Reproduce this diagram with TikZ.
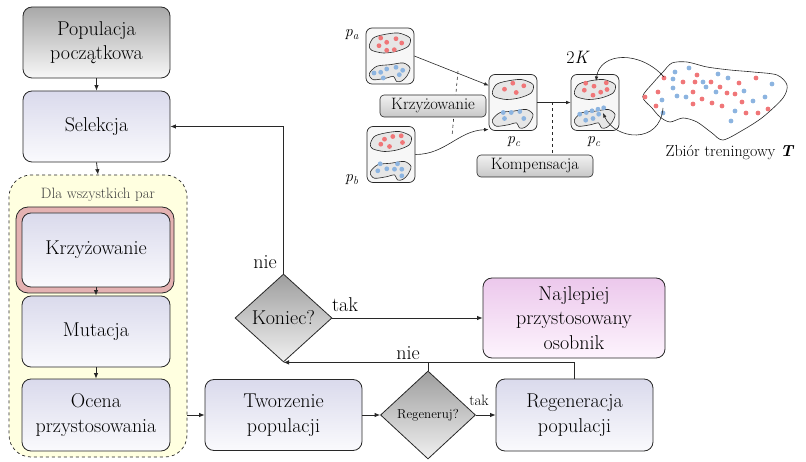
\documentclass[tikz,border=0pt]{standalone}
\usepackage{fontspec}
\usetikzlibrary{shapes.geometric,arrows.meta,calc}

\definecolor{lav}{RGB}{218,218,236}
\definecolor{lavlight}{RGB}{250,250,253}
\definecolor{orchid}{RGB}{236,200,236}
\definecolor{orchidlight}{RGB}{253,244,253}
\definecolor{padyellow}{RGB}{255,255,224}
\definecolor{framepink}{RGB}{228,178,178}
\definecolor{reddot}{RGB}{240,118,120}
\definecolor{bluedot}{RGB}{140,180,224}
\definecolor{blobgrey}{RGB}{230,230,230}
\definecolor{ink}{RGB}{40,40,40}

\newcommand{\spots}[2]{\foreach \a/\b in {#2} \fill[#1] (\a,\b) circle (2.4pt);}
\newcommand{\ivar}[2]{\textit{#1}\textsubscript{\textit{#2}}}

\tikzset{
  flow/.style={draw=ink, line width=0.8pt, rounded corners=9pt, align=center,
    font=\fontsize{20}{24.5}\selectfont, inner sep=2pt},
  greyfill/.style={top color=black!34, bottom color=black!3},
  bluefill/.style={top color=lav, bottom color=lavlight},
  pinkfill/.style={top color=orchid, bottom color=orchidlight},
  decision/.style={diamond, draw=ink, line width=0.8pt, top color=black!38,
    bottom color=black!6, inner sep=0pt, align=center},
  link/.style={line width=0.8pt, draw=ink, -{Latex[length=5.5pt,width=4.5pt]}},
  thinlink/.style={line width=0.6pt, draw=ink, -{Latex[length=4.5pt,width=3.6pt]}},
  lbl/.style={font=\fontsize{20}{24}\selectfont},
  panel/.style={draw=ink, line width=0.7pt, rounded corners=6pt, fill=black!3,
    minimum width=48, minimum height=56, inner sep=0pt},
  blobline/.style={draw=ink, line width=0.6pt, fill=blobgrey},
  tag/.style={draw=ink, line width=0.6pt, rounded corners=4pt, top color=black!5,
    bottom color=black!22, font=\fontsize{16.5}{19}\selectfont, inner sep=1pt},
  pics/blobs/.style={code={
    \draw[blobline] plot[smooth cycle] coordinates {(-20.7,-10.3) (-16.7,-18) (-6.7,-21.3)
      (8.3,-23) (20,-18) (18.3,-9.7) (6.7,-4.7) (-6.7,-3) (-18.3,-5.7)};
    \draw[blobline] plot[smooth cycle] coordinates {(-20.7,17.7) (-13.3,10.3) (0,8.7)
      (13.3,7) (20,12) (16.7,20.3) (11.7,25) (6.7,25.5) (3.3,20.3) (-3.3,22) (-16.7,23.7)};
  }},
}

\begin{document}
\begin{tikzpicture}[x=1pt,y=-1pt]
\useasboundingbox (0,0) rectangle (806,462);

% ---------------- main flow chart ----------------
\node[flow, greyfill, minimum width=147, minimum height=71] (pop) at (96.5,42.5)
  {Populacja\\początkowa};
\node[flow, bluefill, minimum width=147, minimum height=71] (sel) at (96.5,126.5) {Selekcja};

% loop over all pairs
\node[draw=ink, dashed, line width=0.7pt, rounded corners=22pt, fill=padyellow,
  minimum width=178, minimum height=282] (grp) at (98,316) {};
\node[font=\fontsize{15}{18}\selectfont, text=black!75] (grpname) at (98,195) {Dla wszystkich par};
\node[draw=ink, line width=0.8pt, rounded corners=12pt, fill=framepink,
  minimum width=158, minimum height=86] (krzframe) at (95,250) {};
\node[flow, bluefill, minimum width=148, minimum height=74] (krz) at (96,250) {Krzyżowanie};
\node[flow, bluefill, minimum width=148, minimum height=71] (mut) at (96,331.5) {Mutacja};
\node[flow, bluefill, minimum width=148, minimum height=72] (oce) at (96,415)
  {Ocena\\przystosowania};

\node[flow, bluefill, minimum width=157, minimum height=71] (twor) at (283.5,415)
  {Tworzenie\\populacji};
\node[decision, minimum width=95, minimum height=88,
  font=\fontsize{13}{15}\selectfont] (reg) at (428,415) {Regeneruj?};
\node[flow, bluefill, minimum width=157, minimum height=72] (regen) at (574.5,415)
  {Regeneracja\\populacji};
\node[decision, minimum width=97, minimum height=88,
  font=\fontsize{20}{24}\selectfont] (kon) at (283.5,318) {Koniec?};
\node[flow, pinkfill, minimum width=182, minimum height=80] (best) at (574,318)
  {Najlepiej\\przystosowany\\osobnik};

\draw[link] (pop.south) -- (sel.north);
\draw[link] (sel.south) -- (grp.north);
\draw[link] (krz.south) -- (mut.north);
\draw[link] (mut.south) -- (oce.north);
\draw[link] (grp.east |- twor.west) -- (twor.west);
\draw[link] (twor.east) -- (reg.west);
\draw[link] (reg.east) -- (regen.west);
\draw[link] (kon.east) -- (best.west);
\draw[link] (kon.north) |- (sel.east);
\draw[link] (regen.north) |- (kon.south);
\draw[line width=0.8pt, draw=ink] (reg.north) -- (reg.north |- kon.south);

\node[lbl] (takA) at (345,305) {tak};
\node[font=\fontsize{15}{18}\selectfont] (takB) at (479,400) {tak};
\node[lbl] (nieA) at (265,262) {nie};
\node[lbl] (nieB) at (408,353) {nie};

% ---------------- crossover / compensation sketch ----------------
\node[panel] (pa) at (390,56) {};
\pic at (pa.center) {blobs};
\begin{scope}[shift={(pa.center)}]
  \spots{reddot}{-9.3/-18, -3.3/-13.7, 6/-17.3, 11.7/-13, -11/-10.3, -3.3/-5.7, 4.3/-6.3}
  \spots{bluedot}{-16/17, -9.3/16.3, -3.3/13, 6/11.3, 12.7/14.3, -6.7/22, 9.3/18.7}
\end{scope}

\node[panel] (pb) at (391,154.5) {};
\pic at (pb.center) {blobs};
\begin{scope}[shift={(pb.center)}]
  \spots{reddot}{-6.5/-15.3, 1.8/-18, 10.2/-18.7, -10.2/-10.3, -1.5/-8, 11.5/-12}
  \spots{bluedot}{-10.8/9.3, -4.2/14.3, 3.5/14.7, 6.5/9.3, 10.8/14.7, -13.2/16.3, 10.8/21.3}
\end{scope}

\node[panel] (pc) at (513,102.5) {};
\pic at (pc.center) {blobs};
\begin{scope}[shift={(pc.center)}]
  \spots{reddot}{-0.2/-19.3, 10.8/-16.7, -8.5/-13.3, 3.2/-10}
  \spots{bluedot}{-9.8/10, -1.8/10, 6.8/9, -8.5/16, 10.8/16}
\end{scope}

\node[panel] (pd) at (595,102.5) {};
\pic at (pd.center) {blobs};
\begin{scope}[shift={(pd.center)}]
  \spots{reddot}{-9.3/-19.3, -1/-16.3, 11.3/-19.7, 12/-13, -2/-7.3, 5.7/-10.3, -10.7/-12.3}
  \spots{bluedot}{-15.3/11.7, -8.7/10, -3/8.3, 3/6.7, 8.7/5.3, -9.3/17.7, -2/16, 3.7/11.7}
\end{scope}

\node[font=\fontsize{16}{19}\selectfont] (lpa) at (352,35) {\ivar{p}{a}};
\node[font=\fontsize{16}{19}\selectfont] (lpb) at (352,180) {\ivar{p}{b}};
\node[font=\fontsize{16}{19}\selectfont] (lpc) at (514,142) {\ivar{p}{c}};
\node[font=\fontsize{16}{19}\selectfont] (lpd) at (594,142) {\ivar{p}{c}};
\node[font=\fontsize{18}{21}\selectfont] (twoK) at (578,57) {2\textit{K}};

% parents to child, cut line of the crossover
\coordinate (cutTop) at (458,71);
\coordinate (cutBot) at (452,136);
\draw[dashed, line width=0.6pt, draw=ink] (cutTop) -- (cutBot);
\draw[thinlink] (pa.east) -- (pc.145);
\draw[thinlink] (pb.east) to[out=0, in=182] (pc.228);
\node[tag, minimum width=106, minimum height=22] (tkrz) at (433,106) {Krzyżowanie};

% child to compensated child
\draw[thinlink] (pc.east) -- (pd.west);
\coordinate (kcut) at (552,102.5);
\node[tag, minimum width=116, minimum height=22] (tkomp) at (535,166) {Kompensacja};
\draw[dashed, line width=0.6pt, draw=ink] (kcut) -- (kcut |- tkomp.north);

% training set
\draw[line width=0.6pt, draw=ink] plot[smooth cycle] coordinates {(642.7,96.7) (653,83)
  (663,72) (672,63) (687,62) (707,67) (730,70) (753,72) (777,75) (787,85) (783,98)
  (763,117) (743,130) (723,140) (712,133) (697,122) (683,118) (670,122) (660,117) (652,108)};
\spots{reddot}{664/78, 697/75, 683/82, 695/82, 711/82, 720/87, 739/83, 756/78, 658/92,
  645/97, 656/106, 693/92, 702/99, 712/103, 722/106, 727/93, 735/94, 742/102, 746/113,
  758/113, 768/109, 693/104}
\spots{bluedot}{675/72, 689/68, 673/79, 718/74, 728/78, 703/82, 706/87, 673/88, 677/96,
  686/97, 716/92, 744/91, 662/100, 663/113, 753/101, 765/97, 772/84, 735/111, 731/121}
\node[font=\fontsize{16}{19}\selectfont, anchor=west] (tset) at (662,153)
  {Zbiór treningowy \textbf{\textit{T}}};

\coordinate (drawA) at (664,77);
\coordinate (drawB) at (663,108);
\coordinate (intoRed) at (596,81);
\coordinate (intoBlue) at (603,113);
\draw[thinlink] (drawA) .. controls (640,50) and (600,52) .. (intoRed);
\draw[thinlink] (drawB) .. controls (660,145) and (615,140) .. (intoBlue);
\end{tikzpicture}
\end{document}
